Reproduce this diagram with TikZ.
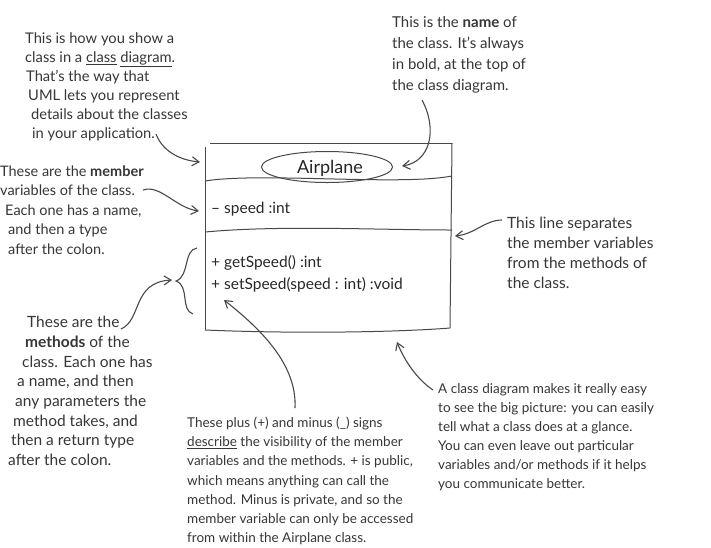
\documentclass[tikz,border=0pt]{standalone}
\usepackage{fontspec}
\setmainfont{Lato}
\usetikzlibrary{arrows.meta,shapes.geometric}
\definecolor{ink}{HTML}{363636}
\definecolor{pen}{HTML}{484848}
\begin{document}
\begin{tikzpicture}[x=1pt,y=-1pt,
  note/.style={anchor=north west,inner sep=0pt,align=left,text=ink},
  arr/.style={draw=pen,line width=1.1pt,-{Straight Barb[length=7pt,width=9pt]}},
  boxline/.style={draw=pen,line width=1pt},
  member/.style={anchor=base west,inner sep=0pt,text=black!85,font=\fontsize{15.5}{18}\selectfont}]
\useasboundingbox (0,0) rectangle (711,547);

% ---------- class box ----------
\coordinate (tl) at (210,143);
\coordinate (tr) at (452,143);
\coordinate (bl) at (205,330);
\coordinate (br) at (450,328);
\draw[boxline] (tl) -- (tr);
\draw[boxline] (205,147) -- (bl);
\draw[boxline] (tr) -- (br);
\draw[boxline] (bl) .. controls (300,334) and (400,332) .. (br);
\draw[boxline] (205,181) .. controls (260,172) and (400,186) .. (452,176);
\draw[boxline] (205,232) .. controls (280,225) and (380,230) .. (452,230);

\node[draw=pen,line width=1pt,ellipse,minimum width=131pt,minimum height=31pt,inner sep=0pt] (name) at (327,167) {};
\node[anchor=base,text=black!85,font=\fontsize{18}{20}\selectfont,inner sep=0pt] (airplane) at (330,173) {Airplane};
\node[member] (speed) at (211,213) {– speed :int};
\node[member] (get) at (211,267) {+ getSpeed() :int};
\node[member] (set) at (211,289) {+ setSpeed(speed : int) :void};

% ---------- notes ----------
\node[note,font=\fontsize{14.7}{19}\selectfont] (noteA) at (25,32.5) {This is how you show a\\
class in a \underline{class} \underline{diagram}.\\
\hspace*{1pt}That's the way that\\
\hspace*{3pt}UML lets you represent\\
\hspace*{6pt}details about the classes\\
\hspace*{7pt}in your application.};

\node[note,font=\fontsize{14.5}{19.5}\selectfont] (noteB) at (0,165.5) {These are the \textbf{member}\\
variables of the class.\\
\hspace*{5pt}Each one has a name,\\
\hspace*{8pt}and then a type\\
\hspace*{8pt}after the colon.};

\node[note,font=\fontsize{15.5}{19.7}\selectfont] (noteC) at (8,316) {\hspace*{19pt}These are the\\
\hspace*{17pt}\textbf{methods} of the\\
\hspace*{14pt}class. Each one has\\
\hspace*{9pt}a name, and then\\
\hspace*{7pt}any parameters the\\
\hspace*{5pt}method takes, and\\
\hspace*{3pt}then a return type\\
after the colon.};

\node[note,font=\fontsize{15}{21}\selectfont] (noteD) at (392,16) {This is the \textbf{name} of\\
the class. It's always\\
in bold, at the top of\\
the class diagram.};

\node[note,font=\fontsize{15.5}{20}\selectfont] (noteE) at (507,217) {This line separates\\
the member variables\\
from the methods of\\
the class.};

\node[note,font=\fontsize{13.5}{19.3}\selectfont] (noteF) at (187,416.5) {These plus (+) and minus (\_) signs\\
\underline{describe} the visibility of the member\\
variables and the methods. + is public,\\
which means anything can call the\\
method. Minus is private, and so the\\
member variable can only be accessed\\
from within the Airplane class.};

\node[note,font=\fontsize{13.5}{19}\selectfont] (noteG) at (438,383.5) {A class diagram makes it really easy\\
to see the big picture: you can easily\\
tell what a class does at a glance.\\
You can even leave out particular\\
variables and/or methods if it helps\\
you communicate better.};

% ---------- arrows ----------
\coordinate (aS) at (156,134);  \coordinate (aT) at (200,162);
\coordinate (bS) at (143,190);  \coordinate (bT) at (199,211);
\coordinate (cS) at (121,329);  \coordinate (cT) at (172,280);
\coordinate (dS) at (422,100);  \coordinate (dT) at (402,166);
\coordinate (eS) at (502,220);  \coordinate (eT) at (455,236);
\coordinate (fS) at (295,408);  \coordinate (fT) at (224,300);
\coordinate (gS) at (433,390);  \coordinate (gT) at (397,342);

\draw[arr] (aS) .. controls (162,150) and (178,160) .. (aT);
\draw[arr] (bS) .. controls (160,184) and (176,208) .. (bT);
\draw[arr] (cS) .. controls (142,320) and (132,282) .. (cT);
\draw[arr] (dS) .. controls (438,130) and (430,162) .. (dT);
\draw[arr] (eS) .. controls (485,220) and (475,234) .. (eT);
\draw[arr] (fS) .. controls (297,365) and (262,330) .. (fT);
\draw[arr] (gS) .. controls (418,380) and (405,362) .. (gT);

% brace
\draw[boxline,line width=1.1pt] (197,248) .. controls (183,250) and (190,276) .. (176,281)
  .. controls (190,286) and (180,310) .. (193,314);
\end{tikzpicture}
\end{document}
